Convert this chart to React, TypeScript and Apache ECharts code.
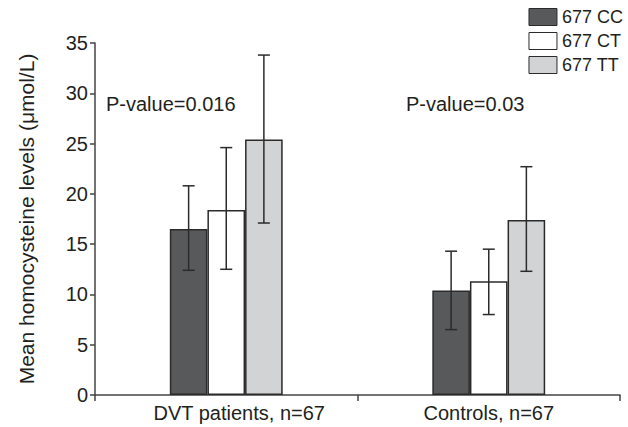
import React, { useEffect, useRef } from "react";
import * as echarts from "echarts";

const categories = ["DVT patients, n=67", "Controls, n=67"];
const seriesNames = ["677 CC", "677 CT", "677 TT"];
const meanCC = [16.5, 10.4];
const meanCT = [18.4, 11.3];
const meanTT = [25.4, 17.4];
const lowCC = [12.4, 6.5];
const highCC = [20.8, 14.3];
const lowCT = [12.5, 8.0];
const highCT = [24.6, 14.5];
const lowTT = [17.1, 12.3];
const highTT = [33.8, 22.7];
const pValues = ["P-value=0.016", "P-value=0.03"];
const yTicks = [0, 5, 10, 15, 20, 25, 30, 35];

const colors = ["#58595b", "#ffffff", "#d1d3d4"];
const edge = "#2b2b2b";
const textColor = "#231f20";
const font = "Liberation Sans, Arial, sans-serif";
const CAT_GAP = 0.57;
const FS = 20;

export default function App() {
  const ref = useRef<HTMLDivElement>(null);
  useEffect(() => {
    document.body.style.margin = "0";
    const chart = echarts.init(ref.current!, null, { renderer: "svg" });
    const means = [meanCC, meanCT, meanTT];
    const lows = [lowCC, lowCT, lowTT];
    const highs = [highCC, highCT, highTT];
    const errData: any[] = [];
    for (let s = 0; s < 3; s++) {
      for (let c = 0; c < categories.length; c++) {
        errData.push([c, lows[s][c], highs[s][c], s]);
      }
    }
    const barSeries = seriesNames.map((name, i) => ({
      name,
      type: "bar",
      data: means[i],
      barGap: "0%",
      barCategoryGap: CAT_GAP * 100 + "%",
      itemStyle: { color: colors[i], borderColor: edge, borderWidth: 1.5 },
    }));
    chart.setOption({
      animation: false,
      textStyle: { fontFamily: font },
      grid: { left: 95, right: 8, top: 43, bottom: 32 },
      legend: {
        orient: "vertical",
        right: 0,
        top: 3,
        itemWidth: 28,
        itemHeight: 17,
        itemGap: 6,
        textStyle: { fontSize: 18, color: textColor, fontFamily: font },
        data: seriesNames.map((n, i) => ({
          name: n,
          icon: "rect",
          itemStyle: { color: colors[i], borderColor: edge, borderWidth: 1 },
        })),
      },
      xAxis: {
        type: "category",
        data: categories,
        axisLine: { lineStyle: { color: "#444", width: 1.5 } },
        axisTick: { show: true, length: 6, lineStyle: { color: "#444", width: 1.5 } },
        axisLabel: {
          fontSize: FS, color: textColor, margin: 8, fontFamily: font,
          formatter: (v: string, i: number) => (i === 0 ? "{a|" + v + "}" : "{b|" + v + "}"),
          rich: {
            a: { fontSize: FS, color: textColor, fontFamily: font, padding: [0, 0, 0, 26] },
            b: { fontSize: FS, color: textColor, fontFamily: font },
          },
        },
      },
      yAxis: {
        type: "value",
        min: 0,
        max: 35,
        interval: 5,
        name: "Mean homocysteine levels (\u03bcmol/L)",
        nameLocation: "middle",
        nameGap: 58,
        nameTextStyle: { fontSize: 21, color: textColor, fontFamily: font },
        splitLine: { show: false },
        axisLine: { show: true, lineStyle: { color: "#444", width: 1.5 } },
        axisTick: { show: true, length: 5, lineStyle: { color: "#444", width: 1.5 } },
        axisLabel: { fontSize: FS, color: textColor, margin: 7, fontFamily: font,
          formatter: (v: number) => (yTicks.indexOf(v) >= 0 ? String(v) : "") },
      },
      series: [
        ...barSeries,
        {
          type: "custom",
          name: "err",
          z: 10,
          data: errData,
          renderItem: (params: any, api: any) => {
            const c = api.value(0);
            const s = api.value(3);
            const band = api.size([1, 0])[0];
            const bw = (band * (1 - CAT_GAP)) / 3;
            const top = api.coord([c, api.value(2)]);
            const bot = api.coord([c, api.value(1)]);
            const x = top[0] + (s - 1) * bw;
            const cap = 6;
            const st = { stroke: "#2b2b2b", lineWidth: 1.5 };
            return {
              type: "group",
              children: [
                { type: "line", shape: { x1: x, y1: top[1], x2: x, y2: bot[1] }, style: st },
                { type: "line", shape: { x1: x - cap, y1: top[1], x2: x + cap, y2: top[1] }, style: st },
                { type: "line", shape: { x1: x - cap, y1: bot[1], x2: x + cap, y2: bot[1] }, style: st },
              ],
            };
          },
        },
      ],
      graphic: [
        { type: "text", left: 106, top: 94, style: { text: pValues[0], fontSize: FS, fill: textColor, fontFamily: font } },
        { type: "text", left: 406, top: 94, style: { text: pValues[1], fontSize: FS, fill: textColor, fontFamily: font } },
      ],
    });
    return () => chart.dispose();
  }, []);
  return <div ref={ref} style={{ width: 628, height: 427 }} />;
}
